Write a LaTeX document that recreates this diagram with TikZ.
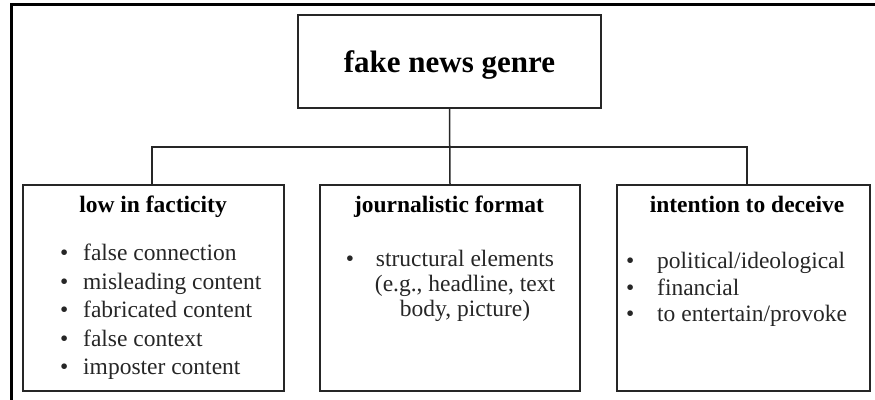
\documentclass[tikz,border=0pt]{standalone}
\usepackage{fontspec}
\setmainfont{Liberation Serif}
\usetikzlibrary{positioning}

\begin{document}
\begin{tikzpicture}[
    x=1pt, y=-1pt,
    box/.style={draw=black!85, line width=1.5pt, inner sep=0pt},
    root/.style={box, minimum width=303pt, minimum height=93pt},
    category/.style={box, minimum height=206pt},
    heading/.style={inner sep=0pt, font=\bfseries\fontsize{23.5}{28}\selectfont},
    title/.style={inner sep=0pt, font=\bfseries\fontsize{31}{36}\selectfont},
    items/.style={inner sep=0pt, text=black!85, font=\fontsize{23.5}{28.5}\selectfont},
    link/.style={draw=black!85, line width=1.5pt},
    frame/.style={draw=black, line width=3pt}
  ]
  \useasboundingbox (0,0) rectangle (875,399);
  \clip (0,0) rectangle (875,399);
  \draw[frame] (11.5,4.5) rectangle (895,420);

  % top of the tree
  \node[root] (genre) at (449.5,61.5) {};
  \node[title, anchor=base] (genretext) at (449.5,72) {fake news genre};

  % the three categories
  \node[category, minimum width=261pt] (facticity) at (153.5,288) {};
  \node[category, minimum width=260pt] (format) at (450,288) {};
  \node[category, minimum width=253pt] (deceive) at (743.5,288) {};

  \coordinate (split) at (449.5,147);
  \draw[link] (genre.south) -- (format.north);
  \draw[link] (facticity.north -| 152,0) |- (split) -| (deceive.north -| 747,0);

  \node[heading, anchor=base] (facticityhead) at (153,212) {low in facticity};
  \node[heading, anchor=base] (formathead) at (449,212) {journalistic format};
  \node[heading, anchor=base] (deceivehead) at (747,212) {intention to deceive};

  \node[items, align=left, anchor=north west] (facticitylist) at (60,244)
    {\makebox[23pt][l]{\textbullet}false connection\\
     \makebox[23pt][l]{\textbullet}misleading content\\
     \makebox[23pt][l]{\textbullet}fabricated content\\
     \makebox[23pt][l]{\textbullet}false context\\
     \makebox[23pt][l]{\textbullet}imposter content};

  \node[items, anchor=base] (formatdot) at (350,266) {\textbullet};
  \node[items, align=center, anchor=north, font=\fontsize{23.5}{25}\selectfont] (formatlist) at (465,250)
    {structural elements\\(e.g., headline, text\\body, picture)};

  \node[items, align=left, anchor=north west, font=\fontsize{23.5}{26.5}\selectfont] (deceivelist) at (626,252)
    {\makebox[31pt][l]{\textbullet}political/ideological\\
     \makebox[31pt][l]{\textbullet}financial\\
     \makebox[31pt][l]{\textbullet}to entertain/provoke};
\end{tikzpicture}
\end{document}
